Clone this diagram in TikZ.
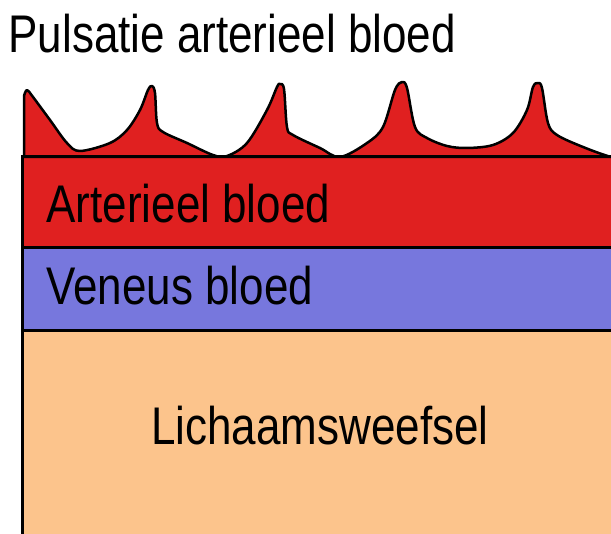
\documentclass[tikz,border=0pt]{standalone}
\usepackage{fontspec}
\newfontfamily\lblfont[FakeStretch=0.83]{Liberation Sans}
\usepackage{xcolor}
\definecolor{artred}{RGB}{224,32,32}
\definecolor{venblue}{RGB}{119,119,221}
\definecolor{weefsel}{RGB}{252,196,140}

\begin{document}
\begin{tikzpicture}[x=1pt, y=-1pt, line width=3pt, every node/.style={inner sep=0pt, font=\lblfont\fontsize{53}{60}\selectfont}]
    \useasboundingbox (0,0) rectangle (611,534);
    \clip (0,0) rectangle (611,534);
    % lagen
    \filldraw[fill=weefsel] (22,331) rectangle (640,560);
    \filldraw[fill=venblue] (22,248) rectangle (640,331);
    \filldraw[fill=artred] (22,157) rectangle (640,248);
    % pulsgolf
    \filldraw[fill=artred, line width=2.5pt, line join=round] (24,157) -- plot[smooth, tension=0.55] coordinates {(24,96) (27,90) (33,97) (50,120) (67,143) (80,151) (110,143) (127,130) (140,110) (148,90) (152,86) (155,93) (157,123) (163,132) (187,143) (213,155) (227,156) (247,143) (267,110) (277,87) (280,84) (284,89) (287,127) (293,135) (320,148) (340,157) (367,143) (383,127) (395,90) (402,82) (407,88) (415,127) (427,138) (447,146) (467,148) (493,145) (513,133) (527,110) (533,87) (538,83) (542,88) (548,123) (557,135) (583,147) (611,157) (630,160)} -- (630,157) -- cycle;
    \draw (22,157) -- (640,157);
    % teksten
    \node[anchor=base west] (titel) at (7,53) {Pulsatie arterieel bloed};
    \node[anchor=base west] (art) at (45,223) {Arterieel bloed};
    \node[anchor=base west] (ven) at (45,305) {Veneus bloed};
    \node[anchor=base] (weef) at (320,445) {Lichaamsweefsel};
\end{tikzpicture}
\end{document}
